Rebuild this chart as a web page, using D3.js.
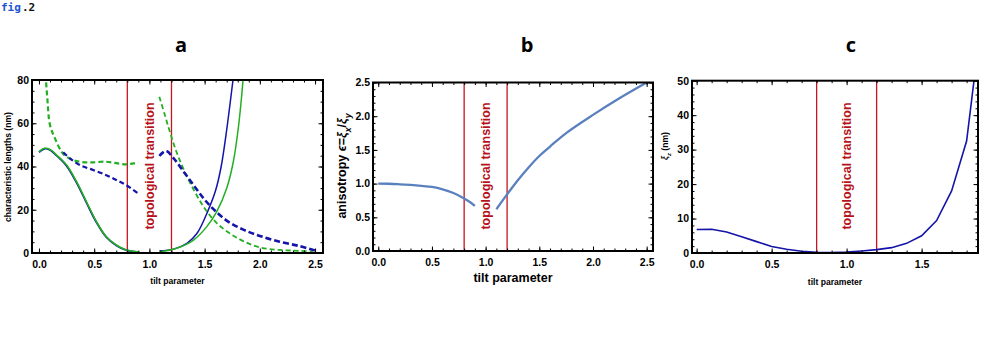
<!DOCTYPE html>
<html>
<head>
<meta charset="utf-8">
<script src="https://cdn.jsdelivr.net/npm/d3@7"></script>
<style>
  body { margin: 0; background: #fff; }
  svg text { font-family: "Liberation Sans", Arial, sans-serif; }
</style>
</head>
<body>
<div id="fig"></div>
<script>
// ---- values ----
const tiltMajor = [0, 0.5, 1, 1.5, 2, 2.5];
const tiltMajorC = [0, 0.5, 1, 1.5];
const yMajorA = [0, 20, 40, 60, 80];
const yMajorB = [0, 0.5, 1, 1.5, 2, 2.5];
const yMajorC = [0, 10, 20, 30, 40, 50];
const transition = [0.8, 1.2];

// panel a : characteristic lengths (nm) vs tilt parameter
const aBlueSolidLeft = [[0, 46.6], [0.05, 48.2], [0.1, 47.6], [0.16, 45.0], [0.25, 40.3], [0.34, 32.6], [0.43, 23.3], [0.52, 14.2], [0.61, 7.3], [0.7, 3.5], [0.79, 1.3], [0.9, 0.4]];
const aGreenSolidLeft = [[0, 46.8], [0.05, 48.4], [0.1, 47.9], [0.16, 45.3], [0.25, 40.7], [0.34, 33.0], [0.43, 23.7], [0.52, 14.5], [0.61, 7.5], [0.7, 3.7], [0.79, 1.4], [0.9, 0.5]];
const aBlueSolidRight = [[1.09, 0.9], [1.22, 1.8], [1.34, 4.5], [1.43, 9.0], [1.53, 19.5], [1.6, 29], [1.65, 40], [1.7, 57], [1.755, 79.2], [1.78, 90]];
const aGreenSolidRight = [[1.09, 0.5], [1.245, 2.2], [1.4, 6.0], [1.52, 12.2], [1.61, 19.1], [1.7, 29.9], [1.76, 42.2], [1.805, 57.7], [1.836, 73], [1.86, 88]];
const aGreenDashLeft = [[0.05, 90], [0.075, 72], [0.1, 59.2], [0.145, 53], [0.205, 46.8], [0.25, 44.5], [0.34, 42.5], [0.46, 41.9], [0.61, 42.2], [0.73, 41.3], [0.79, 41.0], [0.87, 41.5], [0.9, 41.8]];
const aBlueDashLeft = [[0.22, 46.6], [0.28, 43.8], [0.37, 40.7], [0.49, 38.4], [0.61, 36.0], [0.7, 33.8], [0.79, 31.4], [0.9, 27.5]];
const aBlueDashRight = [[1.09, 44.9], [1.15, 47.2], [1.22, 43.8], [1.31, 37.6], [1.4, 31.4], [1.49, 25.3], [1.58, 20.3], [1.7, 15.0], [1.85, 10.8], [2.0, 7.9], [2.18, 5.2], [2.36, 3.2], [2.5, 1.1]];
const aGreenDashRight = [[1.09, 72.3], [1.14, 63.8], [1.19, 55.3], [1.245, 46.8], [1.32, 37.6], [1.41, 28.4], [1.5, 20.7], [1.61, 13.8], [1.73, 9.0], [1.85, 5.5], [2.0, 2.6], [2.18, 1.4], [2.36, 1.0], [2.48, 0.6]];

// panel b : anisotropy
const bLeft = [[0, 1.0], [0.1, 0.998], [0.2, 0.99], [0.3, 0.98], [0.4, 0.967], [0.5, 0.95], [0.6, 0.915], [0.7, 0.86], [0.8, 0.78], [0.86, 0.72], [0.9, 0.67]];
const bRight = [[1.1, 0.62], [1.2, 0.84], [1.3, 1.05], [1.4, 1.24], [1.5, 1.41], [1.6, 1.55], [1.75, 1.75], [2.0, 2.02], [2.25, 2.27], [2.5, 2.5]];

// panel c : xi_z (nm)
const cTilt = [0, 0.1, 0.2, 0.3, 0.4, 0.5, 0.6, 0.7, 0.8, 0.9, 1.0, 1.1, 1.2, 1.3, 1.4, 1.5, 1.6, 1.7, 1.8, 1.9];
const cXiz = [6.8, 6.9, 6.1, 4.7, 3.3, 1.9, 1.07, 0.5, 0.2, 0.1, 0.25, 0.6, 0.97, 1.55, 2.8, 5.0, 9.4, 18, 32.5, 68];

const BLUE = "#1414a8", GREEN = "#22b022", RED = "#c4161c", STEEL = "#5b80bf";

// ---- drawing ----
const svg = d3.select("#fig").append("svg")
    .attr("width", 981)
    .attr("height", 356);
const defs = svg.append("defs");

// "fig .2" caption, Mathematica input style
const cap = svg.append("text").attr("x", 1).attr("y", 11)
    .style("font-family", "'DejaVu Sans Mono', monospace")
    .style("font-size", "11px").style("font-weight", "bold");
cap.append("tspan").attr("fill", "#2356d4").text("fig");
cap.append("tspan").attr("fill", "#111").attr("dx", 1).text(".2");

function range(a, b, s) {
    // minor ticks, rounded to avoid float noise
    return d3.range(Math.round(a / s), Math.round(b / s) + 1).map(i => +(i * s).toFixed(6));
}

function panel(o) {
    const x = d3.scaleLinear().domain(o.xDomain).range([o.left, o.right]);
    const y = d3.scaleLinear().domain(o.yDomain).range([o.bottom, o.top]);
    const g = svg.append("g");

    defs.append("clipPath").attr("id", "clip-" + o.name)
        .append("rect")
        .attr("x", o.left).attr("y", o.top)
        .attr("width", o.right - o.left).attr("height", o.bottom - o.top);

    // title
    svg.append("text")
        .attr("x", o.titleX).attr("y", 52)
        .attr("text-anchor", "middle")
        .style("font-family", "'Open Sans', sans-serif")
        .style("font-size", "20px").style("font-weight", "bold")
        .text(o.name);

    // transition region
    g.selectAll("line.tr").data(transition).join("line")
        .attr("x1", d => x(d)).attr("x2", d => x(d))
        .attr("y1", o.top).attr("y2", o.bottom)
        .attr("stroke", RED).attr("stroke-width", 1.3);
    g.append("text")
        .attr("transform", `translate(${x(1.0) + 4.5},166) rotate(-90)`)
        .attr("text-anchor", "middle")
        .attr("fill", "#b5121b")
        .style("font-size", "12.5px").style("font-weight", "bold")
        .text("topological transition");

    // curves
    const plot = g.append("g").attr("clip-path", `url(#clip-${o.name})`);
    o.series.forEach(s => {
        plot.append("path").datum(s.data)
            .attr("d", d3.line().x(d => x(d[0])).y(d => y(d[1])).curve(s.curve || d3.curveCatmullRom))
            .attr("fill", "none")
            .attr("stroke", s.color)
            .attr("stroke-width", s.width)
            .attr("stroke-dasharray", s.dash || null);
    });

    // frame ticks (inward, on all four sides)
    const axes = [
        [() => d3.axisBottom(x), `translate(0,${o.bottom})`, o.xMajor, o.xMinor, o.xFmt],
        [() => d3.axisTop(x), `translate(0,${o.top})`, o.xMajor, o.xMinor, ""],
        [() => d3.axisLeft(y), `translate(${o.left},0)`, o.yMajor, o.yMinor, o.yFmt],
        [() => d3.axisRight(y), `translate(${o.right},0)`, o.yMajor, o.yMinor, ""]
    ];
    axes.forEach(([mk, tr, major, minor, f], i) => {
        const gMin = g.append("g").attr("transform", tr)
            .call(mk().tickValues(minor).tickSize(-2.5).tickFormat(""));
        gMin.select(".domain").remove();
        const gMaj = g.append("g").attr("transform", tr)
            .call(mk().tickValues(major).tickSize(-4.5).tickPadding(i < 2 ? 7.5 : 3)
                .tickFormat(f === "" ? "" : d3.format(f)));
        gMaj.select(".domain").remove();
        [gMin, gMaj].forEach(gg => {
            gg.attr("font-family", null).attr("font-size", null);
            gg.selectAll("line").attr("stroke", "#000").attr("stroke-width", 1);
            gg.selectAll("text").attr("fill", "#000")
                .style("font-size", "10.5px").style("font-weight", "bold");
        });
    });

    g.append("rect")
        .attr("x", o.left).attr("y", o.top)
        .attr("width", o.right - o.left).attr("height", o.bottom - o.top)
        .attr("fill", "none").attr("stroke", "#000").attr("stroke-width", 2);

    // axis labels
    svg.append("text")
        .attr("x", (o.left + o.right) / 2 + o.xLabelDx).attr("y", o.xLabelY)
        .attr("text-anchor", "middle")
        .style("font-size", o.xLabelSize).style("font-weight", "bold")
        .text("tilt parameter");
    const yl = svg.append("text")
        .attr("transform", `translate(${o.yLabelX},${o.yLabelY}) rotate(-90)`)
        .attr("text-anchor", "middle")
        .style("font-size", o.yLabelSize).style("font-weight", "bold");
    o.yLabel.forEach(p => {
        const t = yl.append("tspan").text(p.t);
        if (p.it) t.style("font-style", "italic");
        if (p.sub) t.attr("baseline-shift", "sub").style("font-size", "0.7em");
    });
}

panel({
    name: "a", titleX: 181,
    left: 32, right: 323, top: 80, bottom: 253,
    xDomain: [-0.063, 2.572], yDomain: [0, 80],
    xMajor: tiltMajor, xMinor: range(0, 2.5, 0.1), xFmt: ".1f",
    yMajor: yMajorA, yMinor: range(0, 80, 5), yFmt: "d",
    xLabelY: 284, xLabelDx: 0, xLabelSize: "8.6px",
    yLabelX: 10.5, yLabelY: 167, yLabelSize: "8.6px",
    yLabel: [{ t: "characteristic lengths (nm)" }],
    series: [
        { data: aBlueSolidLeft, color: BLUE, width: 1.8 },
        { data: aGreenSolidLeft, color: GREEN, width: 1.6 },
        { data: aBlueSolidRight, color: BLUE, width: 1.5 },
        { data: aGreenSolidRight, color: GREEN, width: 1.5 },
        { data: aGreenDashLeft, color: GREEN, width: 2.2, dash: "5,3" },
        { data: aBlueDashLeft, color: BLUE, width: 2.2, dash: "5,3" },
        { data: aGreenDashRight, color: GREEN, width: 1.8, dash: "5,3" },
        { data: aBlueDashRight, color: BLUE, width: 2.6, dash: "6,3" }
    ]
});

panel({
    name: "b", titleX: 527,
    left: 373, right: 653, top: 82.5, bottom: 251,
    xDomain: [-0.049, 2.559], yDomain: [0, 2.5],
    xMajor: tiltMajor, xMinor: range(0, 2.5, 0.1), xFmt: ".1f",
    yMajor: yMajorB, yMinor: range(0, 2.5, 0.1), yFmt: ".1f",
    xLabelY: 282, xLabelDx: 0, xLabelSize: "12.5px",
    yLabelX: 346, yLabelY: 166, yLabelSize: "12.5px",
    yLabel: [{ t: "anisotropy " }, { t: "ϵ", it: true }, { t: "=" }, { t: "ξ", it: true }, { t: "x", it: true, sub: true },
             { t: "/" }, { t: "ξ", it: true }, { t: "y", it: true, sub: true }],
    series: [
        { data: bLeft, color: STEEL, width: 2.3 },
        { data: bRight, color: STEEL, width: 2.3 }
    ]
});

panel({
    name: "c", titleX: 851,
    left: 692, right: 978, top: 80.7, bottom: 253,
    xDomain: [-0.031, 1.876], yDomain: [0, 50],
    xMajor: tiltMajorC, xMinor: range(0, 1.8, 0.1), xFmt: ".1f",
    yMajor: yMajorC, yMinor: range(0, 50, 2), yFmt: "d",
    xLabelY: 285, xLabelDx: 0, xLabelSize: "8.6px",
    yLabelX: 668, yLabelY: 146, yLabelSize: "8.6px",
    yLabel: [{ t: "ξ", it: true }, { t: "z", it: true, sub: true }, { t: " (nm)" }],
    series: [
        { data: cTilt.map((t, i) => [t, cXiz[i]]), color: BLUE, width: 1.6, curve: d3.curveLinear }
    ]
});
</script>
</body>
</html>
